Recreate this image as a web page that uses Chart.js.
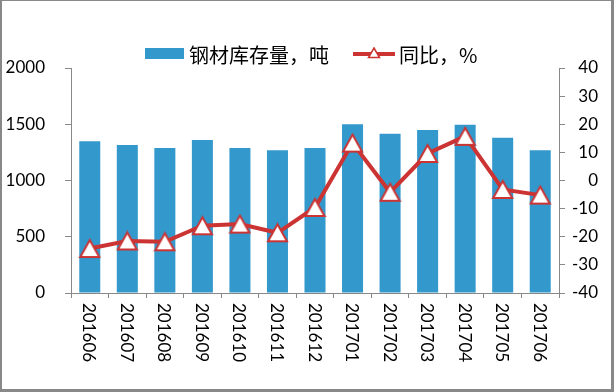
<!DOCTYPE html>
<html>
<head>
<meta charset="utf-8">
<script src="https://cdn.jsdelivr.net/npm/chart.js@4/dist/chart.umd.min.js"></script>
<style>
html,body{margin:0;padding:0;background:#fff;}
canvas{display:block;}
</style>
</head>
<body>
<canvas id="c" width="614" height="392"></canvas>
<script>
const categories = ['201606','201607','201608','201609','201610','201611','201612','201701','201702','201703','201704','201705','201706'];
const stockValues = [1350, 1315, 1290, 1360, 1290, 1270, 1290, 1500, 1415, 1450, 1495, 1380, 1270];
const yoyValues = [-24.2, -21.5, -21.8, -16.1, -15.5, -18.6, -9.6, 13.3, -4.2, 9.6, 15.7, -3.2, -5.2];
const stockLabel = '钢材库存量，吨';
const yoyLabel = '同比，%';

const BLUE = '#3399CC';
const RED = '#CC3333';
const AXIS = '#888888';
const NUMFONT = 'Lato, "Liberation Sans", sans-serif';
const CJKFONT = '"Noto Sans CJK SC", "Noto Sans", sans-serif';

// triangle marker centered on its bounding box (Excel-style)
function makeTriangle(w, h, lw) {
  const cv = document.createElement('canvas');
  const W = Math.ceil(w + lw * 2), H = Math.ceil(h + lw * 2);
  cv.width = W; cv.height = H;
  const g = cv.getContext('2d');
  g.lineWidth = lw;
  g.strokeStyle = RED;
  g.fillStyle = '#ffffff';
  g.lineJoin = 'miter';
  g.beginPath();
  g.moveTo(W / 2, (H - h) / 2);
  g.lineTo(W / 2 + w / 2, (H + h) / 2);
  g.lineTo(W / 2 - w / 2, (H + h) / 2);
  g.closePath();
  g.fill();
  g.stroke();
  return cv;
}
const triMarker = makeTriangle(19, 17, 2);

const decor = {
  id: 'decor',
  afterDraw(chart) {
    const ctx = chart.ctx;
    const x = chart.scales.x;
    ctx.save();
    // rotated category labels (clockwise)
    ctx.fillStyle = '#000';
    ctx.font = '17px ' + NUMFONT;
    ctx.textAlign = 'left';
    ctx.textBaseline = 'middle';
    categories.forEach((lab, i) => {
      const px = x.getPixelForValue(i) - 1;
      ctx.save();
      ctx.translate(px, 303);
      ctx.rotate(Math.PI / 2);
      ctx.fillText(lab, 0, 0);
      ctx.restore();
    });
    // legend
    ctx.fillStyle = BLUE;
    ctx.fillRect(145, 48, 39, 11);
    ctx.fillStyle = '#000';
    ctx.font = '20px ' + CJKFONT;
    ctx.textBaseline = 'middle';
    ctx.fillText(stockLabel, 189, 55);
    ctx.strokeStyle = RED;
    ctx.lineWidth = 4;
    ctx.beginPath();
    ctx.moveTo(353, 54);
    ctx.lineTo(395, 54);
    ctx.stroke();
    ctx.fillStyle = '#fff';
    ctx.lineWidth = 1.5;
    ctx.beginPath();
    ctx.moveTo(374, 48);
    ctx.lineTo(379.5, 57.5);
    ctx.lineTo(368.5, 57.5);
    ctx.closePath();
    ctx.fill();
    ctx.stroke();
    ctx.fillStyle = '#000';
    ctx.fillText(yoyLabel, 399, 55);
    // outer border
    ctx.fillStyle = '#888';
    ctx.fillRect(0, 0, 614, 1);
    ctx.fillRect(0, 0, 2, 392);
    ctx.fillRect(611, 0, 3, 392);
    ctx.fillRect(0, 389, 614, 3);
    ctx.restore();
  }
};

new Chart(document.getElementById('c'), {
  data: {
    labels: categories,
    datasets: [
      {
        type: 'line',
        label: yoyLabel,
        data: yoyValues,
        yAxisID: 'y1',
        borderColor: RED,
        borderWidth: 4,
        pointStyle: triMarker,
        pointRadius: 10,
        pointHoverRadius: 10,
        tension: 0,
        order: 0
      },
      {
        type: 'bar',
        label: stockLabel,
        data: stockValues,
        yAxisID: 'y',
        backgroundColor: BLUE,
        borderWidth: 0,
        barPercentage: 0.56,
        categoryPercentage: 1.0,
        order: 1
      }
    ]
  },
  options: {
    responsive: false,
    animation: false,
    devicePixelRatio: 1,
    layout: { padding: { left: 2, right: 16, top: 68, bottom: 0 } },
    plugins: { legend: { display: false }, tooltip: { enabled: false } },
    scales: {
      x: {
        offset: true,
        grid: { display: true, drawOnChartArea: false, drawTicks: true, tickLength: 5, color: AXIS, offset: true },
        border: { color: AXIS, width: 1 },
        ticks: { display: false },
        afterFit(s) { s.height = 99; }
      },
      y: {
        position: 'left',
        min: 0, max: 2000,
        grid: { display: true, drawOnChartArea: false, drawTicks: true, tickLength: 6, color: AXIS },
        border: { color: AXIS, width: 1 },
        ticks: { stepSize: 500, padding: 20, color: '#000', font: { family: NUMFONT, size: 17 },
                 callback: (v) => String(v) },
        afterFit(s) { s.width = 69; }
      },
      y1: {
        position: 'right',
        min: -40, max: 40,
        grid: { display: true, drawOnChartArea: false, drawTicks: true, tickLength: 6, color: AXIS },
        border: { color: AXIS, width: 1 },
        ticks: { stepSize: 10, padding: 3, crossAlign: 'far', color: '#000', font: { family: NUMFONT, size: 17 },
                 callback: (v) => String(v) },
        afterFit(s) { s.width = 39; }
      }
    }
  },
  plugins: [decor]
});
</script>
</body>
</html>
